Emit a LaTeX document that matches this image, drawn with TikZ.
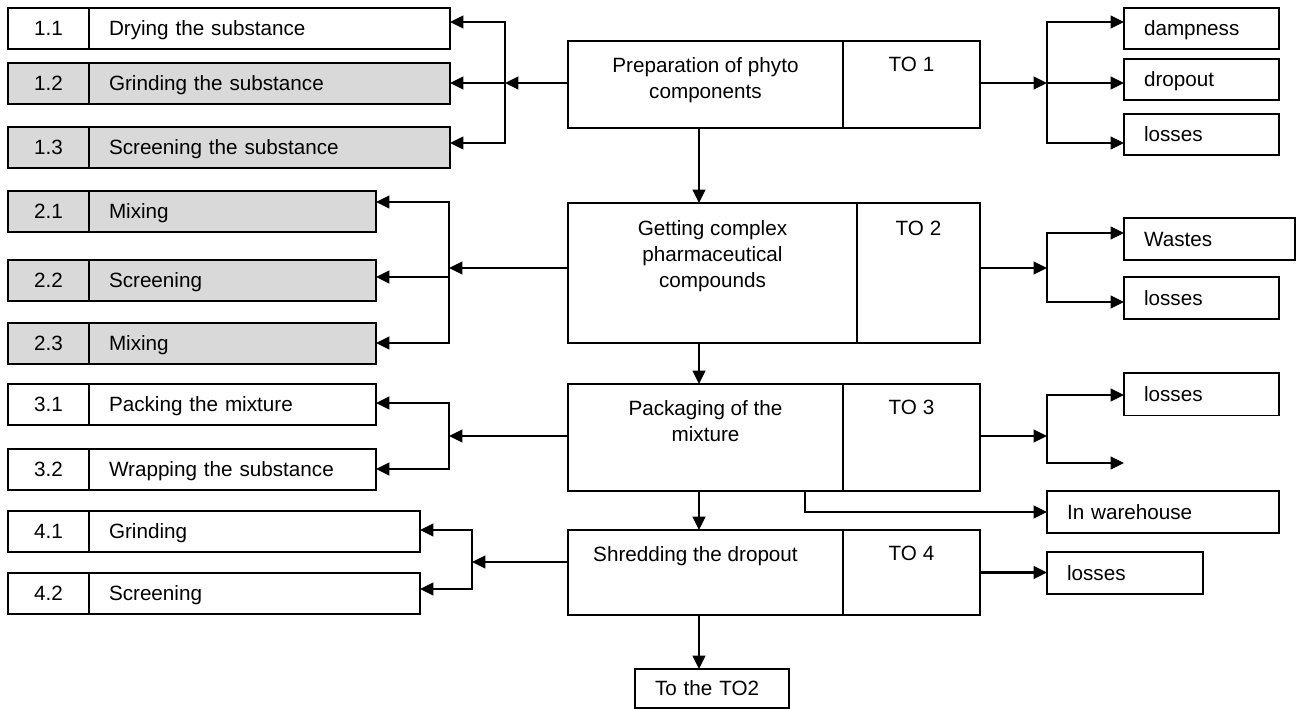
\documentclass[tikz,border=0pt]{standalone}
\usepackage{fontspec}
\setmainfont{Liberation Sans}
\usetikzlibrary{arrows.meta, positioning}
\definecolor{cellgray}{RGB}{217,217,217}
\tikzset{
  cell/.style={draw, line width=1.1pt, inner sep=0pt, outer sep=0pt,
    minimum height=30.75pt, text height=11pt, text depth=0pt, anchor=north west},
  numcell/.style={cell, minimum width=60.75pt},
  textcell/.style={cell, align=left, inner xsep=15pt, text width=#1},
  grayfill/.style={fill=cellgray},
  stagebox/.style={draw, line width=1.1pt, outer sep=0pt, anchor=north west},
  stagetext/.style={inner sep=0pt, align=center},
  arr/.style={line width=1.6pt, -{Triangle[length=10pt, width=9.5pt]}},
  link/.style={line width=1.6pt, line cap=rect},
}

\begin{document}
\begin{tikzpicture}[x=0.75pt, y=-0.75pt,
  every node/.style={font=\fontsize{15.5}{19.5}\selectfont}]
\useasboundingbox (0,0) rectangle (1298,709);

% operations on the left
\node[numcell] (num11) at (8,8) {1.1};
\node[textcell=240.75pt, right=0pt of num11] (op11) {Drying the substance};
\node[numcell, grayfill] (num12) at (8,63) {1.2};
\node[textcell=240.75pt, grayfill, right=0pt of num12] (op12) {Grinding the substance};
\node[numcell, grayfill] (num13) at (8,127) {1.3};
\node[textcell=240.75pt, grayfill, right=0pt of num13] (op13) {Screening the substance};

\node[numcell, grayfill] (num21) at (8,191) {2.1};
\node[textcell=185.25pt, grayfill, right=0pt of num21] (op21) {Mixing};
\node[numcell, grayfill] (num22) at (8,260) {2.2};
\node[textcell=185.25pt, grayfill, right=0pt of num22] (op22) {Screening};
\node[numcell, grayfill] (num23) at (8,323) {2.3};
\node[textcell=185.25pt, grayfill, right=0pt of num23] (op23) {Mixing};

\node[numcell] (num31) at (8,384) {3.1};
\node[textcell=185.25pt, right=0pt of num31] (op31) {Packing the mixture};
\node[numcell] (num32) at (8,449) {3.2};
\node[textcell=185.25pt, right=0pt of num32] (op32) {Wrapping the substance};

\node[numcell] (num41) at (8,511) {4.1};
\node[textcell=218.25pt, right=0pt of num41] (op41) {Grinding};
\node[numcell] (num42) at (8,573) {4.2};
\node[textcell=218.25pt, right=0pt of num42] (op42) {Screening};

% stages
\node[stagebox, minimum width=206.25pt, minimum height=65.25pt] (prep) at (568,41) {};
\node[stagebox, minimum width=102.75pt, minimum height=65.25pt, right=0pt of prep] (to1) {};
\node[stagetext, below=12pt of prep.north] (prepText) {Preparation of phyto\\components};
\node[stagetext, below=12pt of to1.north] (to1Text) {TO 1};

\node[stagebox, minimum width=216.75pt, minimum height=105pt] (mix) at (568,203) {};
\node[stagebox, minimum width=92.25pt, minimum height=105pt, right=0pt of mix] (to2) {};
\node[stagetext, below=13pt of mix.north] (mixText) {Getting complex\\pharmaceutical\\compounds};
\node[stagetext, below=13pt of to2.north] (to2Text) {TO 2};

\node[stagebox, minimum width=206.25pt, minimum height=80.25pt] (pack) at (568,384) {};
\node[stagebox, minimum width=102.75pt, minimum height=80.25pt, right=0pt of pack] (to3) {};
\node[stagetext, below=12pt of pack.north] (packText) {Packaging of the\\mixture};
\node[stagetext, below=12pt of to3.north] (to3Text) {TO 3};

\node[stagebox, minimum width=206.25pt, minimum height=63.75pt] (shred) at (568,530) {};
\node[stagebox, minimum width=102.75pt, minimum height=63.75pt, right=0pt of shred] (to4) {};
\node[stagetext, below=12pt of shred.north, xshift=-7.5pt] (shredText) {Shredding the dropout};
\node[stagetext, below=12pt of to4.north] (to4Text) {TO 4};

\node[textcell=85.5pt, minimum height=29.25pt] (back) at (635,669) {To the TO2};

% outputs on the right
\node[textcell=86.25pt] (out11) at (1124,8) {dampness};
\node[textcell=86.25pt] (out12) at (1124,59) {dropout};
\node[textcell=86.25pt] (out13) at (1124,114) {losses};
\node[textcell=98.25pt, minimum height=31.5pt] (out21) at (1124,218) {Wastes};
\node[textcell=86.25pt, minimum height=31.5pt] (out22) at (1124,277) {losses};
\node[textcell=86.25pt, minimum height=32pt] (out31) at (1124,373) {losses};
\node[textcell=144pt, minimum height=31.5pt] (store) at (1047,491) {In warehouse};
\node[textcell=87pt, minimum height=31.5pt] (out41) at (1047,552) {losses};

% fork points
\coordinate (spine) at (699,0);
\coordinate (forkA) at (505,83);
\coordinate (forkAtop) at (505,22);
\coordinate (forkAbot) at (505,143);
\coordinate (forkB) at (449,268);
\coordinate (forkBtop) at (449,202);
\coordinate (forkBmid) at (449,277);
\coordinate (forkBbot) at (449,343);
\coordinate (forkC) at (449,436);
\coordinate (forkCtop) at (449,403);
\coordinate (forkCbot) at (449,469);
\coordinate (forkD) at (472,562);
\coordinate (forkDtop) at (472,530);
\coordinate (forkDbot) at (472,589);
\coordinate (forkE) at (1047,83);
\coordinate (forkEtop) at (1047,22);
\coordinate (forkEbot) at (1047,143);
\coordinate (forkF) at (1047,268);
\coordinate (forkFtop) at (1047,233);
\coordinate (forkFbot) at (1047,302);
\coordinate (forkG) at (1047,436);
\coordinate (forkGtop) at (1047,395);
\coordinate (forkGbot) at (1047,463);
\coordinate (openEnd) at (1124,463);

% main flow
\draw[arr] (prep.south -| spine) -- (mix.north -| spine);
\draw[arr] (mix.south -| spine) -- (pack.north -| spine);
\draw[arr] (pack.south -| spine) -- (shred.north -| spine);
\draw[arr] (shred.south -| spine) -- (back.north -| spine);
\draw[arr] ([xshift=-28.5pt]pack.south east) |- (store.west);
\draw[arr] (to4.east) -- (to4.east -| out41.west);

% left forks
\draw[link] (forkAtop) -- (forkAbot);
\draw[arr] (prep.west |- forkA) -- (forkA);
\draw[arr] (forkAtop) -- (forkAtop -| op11.east);
\draw[arr] (forkA) -- (forkA -| op12.east);
\draw[arr] (forkAbot) -- (forkAbot -| op13.east);

\draw[link] (forkBtop) -- (forkBbot);
\draw[arr] (mix.west |- forkB) -- (forkB);
\draw[arr] (forkBtop) -- (forkBtop -| op21.east);
\draw[arr] (forkBmid) -- (forkBmid -| op22.east);
\draw[arr] (forkBbot) -- (forkBbot -| op23.east);

\draw[link] (forkCtop) -- (forkCbot);
\draw[arr] (pack.west |- forkC) -- (forkC);
\draw[arr] (forkCtop) -- (forkCtop -| op31.east);
\draw[arr] (forkCbot) -- (forkCbot -| op32.east);

\draw[link] (forkDtop) -- (forkDbot);
\draw[arr] (shred.west |- forkD) -- (forkD);
\draw[arr] (forkDtop) -- (forkDtop -| op41.east);
\draw[arr] (forkDbot) -- (forkDbot -| op42.east);

% right forks
\draw[link] (forkEtop) -- (forkEbot);
\draw[arr] (to1.east |- forkE) -- (forkE);
\draw[arr] (forkEtop) -- (forkEtop -| out11.west);
\draw[arr] (forkE) -- (forkE -| out12.west);
\draw[arr] (forkEbot) -- (forkEbot -| out13.west);

\draw[link] (forkFtop) -- (forkFbot);
\draw[arr] (to2.east |- forkF) -- (forkF);
\draw[arr] (forkFtop) -- (forkFtop -| out21.west);
\draw[arr] (forkFbot) -- (forkFbot -| out22.west);

\draw[link] (forkGtop) -- (forkGbot);
\draw[arr] (to3.east |- forkG) -- (forkG);
\draw[arr] (forkGtop) -- (forkGtop -| out31.west);
\draw[arr] (forkGbot) -- (openEnd);
\end{tikzpicture}
\end{document}
